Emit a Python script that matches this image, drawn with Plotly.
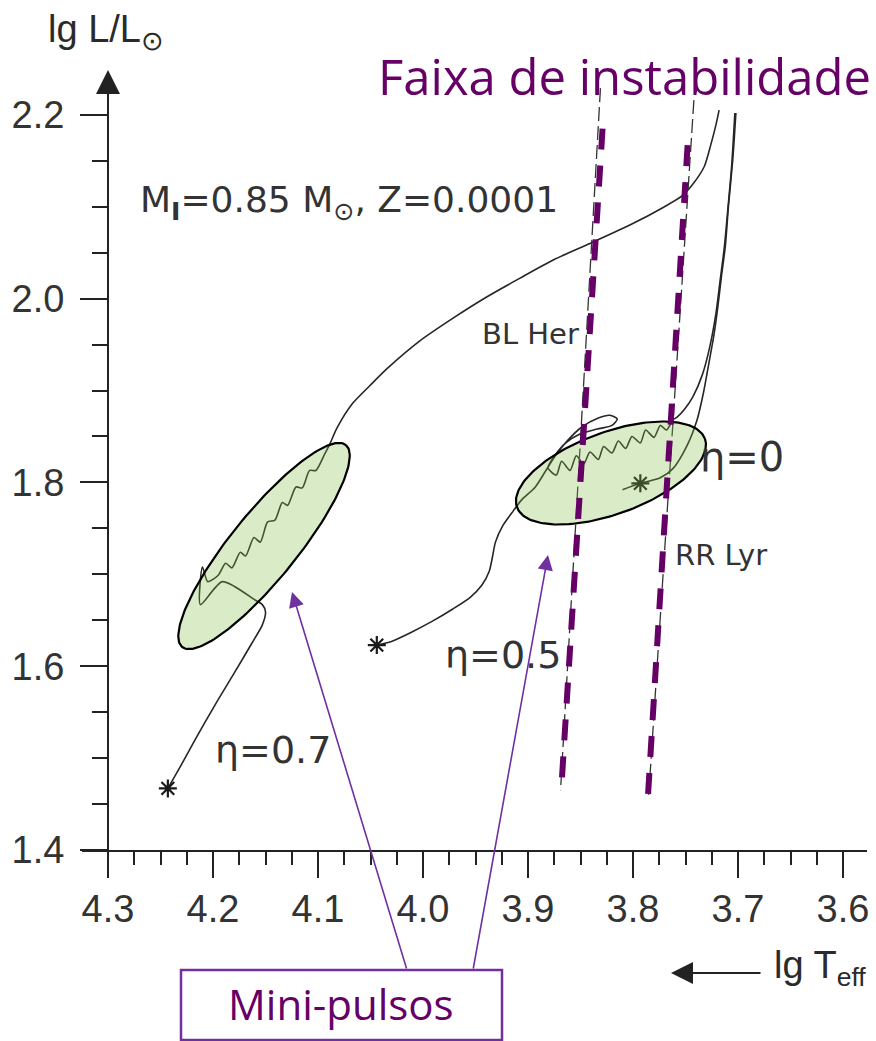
import numpy as np
import plotly.graph_objects as go

# ---------------- data (lg Teff, lg L/Lsun) ----------------
eta07_T = [4.243, 4.231, 4.217, 4.198, 4.179, 4.163, 4.153, 4.150, 4.153, 4.160,
           4.191, 4.212, 4.210, 4.205, 4.195, 4.188, 4.182, 4.174, 4.169, 4.161,
           4.155, 4.148, 4.141, 4.134, 4.129, 4.121, 4.115, 4.108, 4.102, 4.094,
           4.089, 4.082, 4.067, 4.050, 4.034, 4.003, 3.971, 3.939, 3.908, 3.876,
           3.841, 3.803, 3.770, 3.753, 3.742, 3.732, 3.726, 3.721, 3.718]
eta07_L = [1.467, 1.491, 1.520, 1.558, 1.594, 1.625, 1.645, 1.659, 1.667, 1.672,
           1.692, 1.667, 1.708, 1.692, 1.699, 1.712, 1.707, 1.724, 1.720, 1.740,
           1.735, 1.757, 1.759, 1.778, 1.775, 1.795, 1.794, 1.813, 1.813, 1.830,
           1.841, 1.859, 1.886, 1.906, 1.924, 1.954, 1.979, 2.002, 2.022, 2.042,
           2.060, 2.080, 2.100, 2.112, 2.126, 2.144, 2.167, 2.189, 2.205]

eta05_T = [4.044, 4.030, 4.011, 3.991, 3.972, 3.955, 3.944, 3.937, 3.934, 3.931,
           3.924, 3.914, 3.906, 3.893, 3.884, 3.874, 3.862, 3.849, 3.833, 3.822,
           3.815, 3.820, 3.834, 3.850, 3.864, 3.874, 3.881,
           3.873, 3.868, 3.860, 3.854, 3.847, 3.841, 3.833, 3.828, 3.820, 3.814,
           3.807, 3.801, 3.793, 3.788, 3.780, 3.774, 3.768, 3.762,
           3.758, 3.750, 3.743, 3.734, 3.727, 3.721, 3.717, 3.713, 3.710, 3.706, 3.703]
eta05_L = [1.623, 1.627, 1.637, 1.649, 1.662, 1.675, 1.688, 1.703, 1.718, 1.735,
           1.753, 1.769, 1.781, 1.795, 1.811, 1.829, 1.846, 1.860, 1.870, 1.873,
           1.869, 1.862, 1.858, 1.853, 1.843, 1.830, 1.816,
           1.808, 1.823, 1.813, 1.829, 1.820, 1.833, 1.825, 1.839, 1.832, 1.845,
           1.837, 1.850, 1.843, 1.857, 1.849, 1.862, 1.857, 1.868,
           1.871, 1.881, 1.893, 1.917, 1.947, 1.984, 2.020, 2.056, 2.093, 2.145, 2.202]

eta0_T = [3.810, 3.793, 3.774, 3.762, 3.749, 3.739, 3.733, 3.728, 3.723, 3.719,
          3.716, 3.712, 3.709, 3.705, 3.702]
eta0_L = [1.792, 1.799, 1.805, 1.815, 1.839, 1.868, 1.897, 1.928, 1.960, 1.993,
          2.022, 2.058, 2.102, 2.151, 2.202]

zahb_T = [4.243, 4.044, 3.793]
zahb_L = [1.467, 1.623, 1.799]

# instability strip edges (original thin lines and highlighted purple ones)
strip_thin_blue_T = [3.831, 3.869]
strip_thin_blue_L = [2.229, 1.465]
strip_thin_red_T = [3.742, 3.785]
strip_thin_red_L = [2.216, 1.460]
strip_blue_T = [3.829, 3.868]
strip_blue_L = [2.185, 1.472]
strip_red_T = [3.748, 3.786]
strip_red_L = [2.167, 1.454]

x_ticks = [4.3, 4.2, 4.1, 4.0, 3.9, 3.8, 3.7, 3.6]
y_ticks = [1.4, 1.6, 1.8, 2.0, 2.2]

# ---------------- geometry ----------------
W, H = 876, 1041
ORX, ORY = 108, 850          # pixel of (4.3, 1.4)
PX_T, PX_L = 1050.0, 919.0   # pixels per unit
XL_PX, XR_PX = 82, 867
YT_PX = 82
x_range = [4.3 + (ORX - XL_PX) / PX_T, 4.3 - (XR_PX - ORX) / PX_T]
y_range = [1.4, 1.4 + (ORY - YT_PX) / PX_L]


def paper(px, py):
    return px / W, 1 - py / H


def ellipse(tc, lc, a, b, ang_deg):
    t = np.linspace(0, 2 * np.pi, 200)
    th = np.radians(ang_deg)
    dx = a * np.cos(t) * np.cos(th) - b * np.sin(t) * np.sin(th)
    dy = a * np.cos(t) * np.sin(th) + b * np.sin(t) * np.cos(th)
    return tc - dx / PX_T, lc + dy / PX_L


TRACK = dict(color="#262626", width=1.6, shape="spline", smoothing=0.7)
fig = go.Figure()

for tx, ly in [(eta07_T, eta07_L), (eta05_T, eta05_L), (eta0_T, eta0_L)]:
    fig.add_trace(go.Scatter(x=tx, y=ly, mode="lines", line=TRACK, hoverinfo="skip"))

fig.add_trace(go.Scatter(x=zahb_T, y=zahb_L, mode="markers",
                         marker=dict(symbol="asterisk-open", size=15, color="#1a1a1a",
                                     line=dict(color="#1a1a1a", width=2.2)),
                         cliponaxis=False))

for tx, ly in [(strip_thin_blue_T, strip_thin_blue_L), (strip_thin_red_T, strip_thin_red_L)]:
    fig.add_trace(go.Scatter(x=tx, y=ly, mode="lines",
                             line=dict(color="#333333", width=1.3, dash="14px,5px")))

# highlighted ellipses (mini-pulses)
for tc, lc, a, b, ang in [(4.1514, 1.7308, 130, 33, 51), (3.8210, 1.8102, 100, 41, 20)]:
    ex, ey = ellipse(tc, lc, a, b, ang)
    fig.add_trace(go.Scatter(x=ex, y=ey, mode="lines", fill="toself",
                             fillcolor="rgba(133,188,72,0.30)",
                             line=dict(color="#000000", width=2.2), cliponaxis=False))

for tx, ly in [(strip_blue_T, strip_blue_L), (strip_red_T, strip_red_L)]:
    fig.add_trace(go.Scatter(x=tx, y=ly, mode="lines",
                             line=dict(color="#660066", width=6, dash="21px,16px")))

AX_COL = "#222222"
TICK_FONT = dict(family="Liberation Sans, Arial", size=38, color="#333333")
fig.update_layout(
    template="none",
    width=W, height=H, autosize=False,
    margin=dict(l=0, r=0, t=0, b=0, pad=0),
    paper_bgcolor="white", plot_bgcolor="white",
    showlegend=False,
    xaxis=dict(range=x_range, domain=[XL_PX / W, XR_PX / W], anchor="y", automargin=False,
               showgrid=False, zeroline=False, showline=True, linecolor=AX_COL, linewidth=2,
               tickmode="array", tickvals=x_ticks, ticktext=[f"{v:.1f}" for v in x_ticks],
               ticks="outside", ticklen=26, tickwidth=2, tickcolor=AX_COL,
               tickfont=TICK_FONT, ticklabelstandoff=-2,
               minor=dict(dtick=0.025, tick0=4.3, ticks="outside", ticklen=13,
                          tickwidth=2, tickcolor=AX_COL, showgrid=False)),
    yaxis=dict(range=y_range, domain=[1 - ORY / H, 1 - YT_PX / H], anchor="free",
               position=ORX / W, automargin=False,
               showgrid=False, zeroline=False, showline=True, linecolor=AX_COL, linewidth=2,
               tickmode="array", tickvals=y_ticks, ticktext=[f"{v:.1f}" for v in y_ticks],
               ticks="outside", ticklen=27, tickwidth=2, tickcolor=AX_COL,
               tickfont=TICK_FONT, ticklabelstandoff=8,
               minor=dict(dtick=0.05, tick0=1.4, ticks="outside", ticklen=15,
                          tickwidth=2, tickcolor=AX_COL, showgrid=False)),
)

ann = []


def text(px, py, s, size, family="DejaVu Sans", color="#333333", xanchor="left"):
    x, y = paper(px, py)
    ann.append(dict(x=x, y=y, xref="paper", yref="paper", text=s, showarrow=False,
                    xanchor=xanchor, yanchor="middle",
                    font=dict(family=family, size=size, color=color)))


def arrow(hx, hy, tx, ty, color, width, size):
    x, y = paper(hx, hy)
    ann.append(dict(x=x, y=y, xref="paper", yref="paper", text="", showarrow=True,
                    ax=tx - hx, ay=ty - hy, axref="pixel", ayref="pixel",
                    arrowhead=2, arrowsize=size, arrowwidth=width, arrowcolor=color))


text(46, 32, "lg L/L<sub>⊙</sub>", 38, family="Liberation Sans, Arial", color="#2a2a2a")
text(772, 968, "lg T<sub>eff</sub>", 38, family="Liberation Sans, Arial", color="#2a2a2a")
arrow(108, 70, 108, 100, AX_COL, 2, 2.4)
arrow(671, 973, 762, 973, AX_COL, 2, 2.2)

text(138, 203, "M<sub><b>I</b></sub>=0.85 M<sub>⊙</sub>, Z=0.0001", 36)
text(480, 334, "BL Her", 29)
text(698, 457, "η=0", 40)
text(673, 555, "RR Lyr", 29)
text(443, 655, "η=0.5", 38)
text(213, 750, "η=0.7", 38)

text(376, 76, "Faixa de instabilidade", 49, family="Open Sans", color="#660066")
text(341, 1003, "Mini-pulsos", 42, family="Open Sans", color="#660066", xanchor="center")

arrow(292, 592, 407, 970, "#7030a0", 1.6, 1.9)
arrow(548, 555, 473, 970, "#7030a0", 1.6, 1.9)

bx0, by0 = paper(181, 1040)
bx1, by1 = paper(502, 970)
fig.update_layout(
    annotations=ann,
    shapes=[dict(type="rect", xref="paper", yref="paper", x0=bx0, y0=by0, x1=bx1, y1=by1,
                 line=dict(color="#7030a0", width=2.5), fillcolor="white", layer="above")],
)

fig.write_html("out.html")
